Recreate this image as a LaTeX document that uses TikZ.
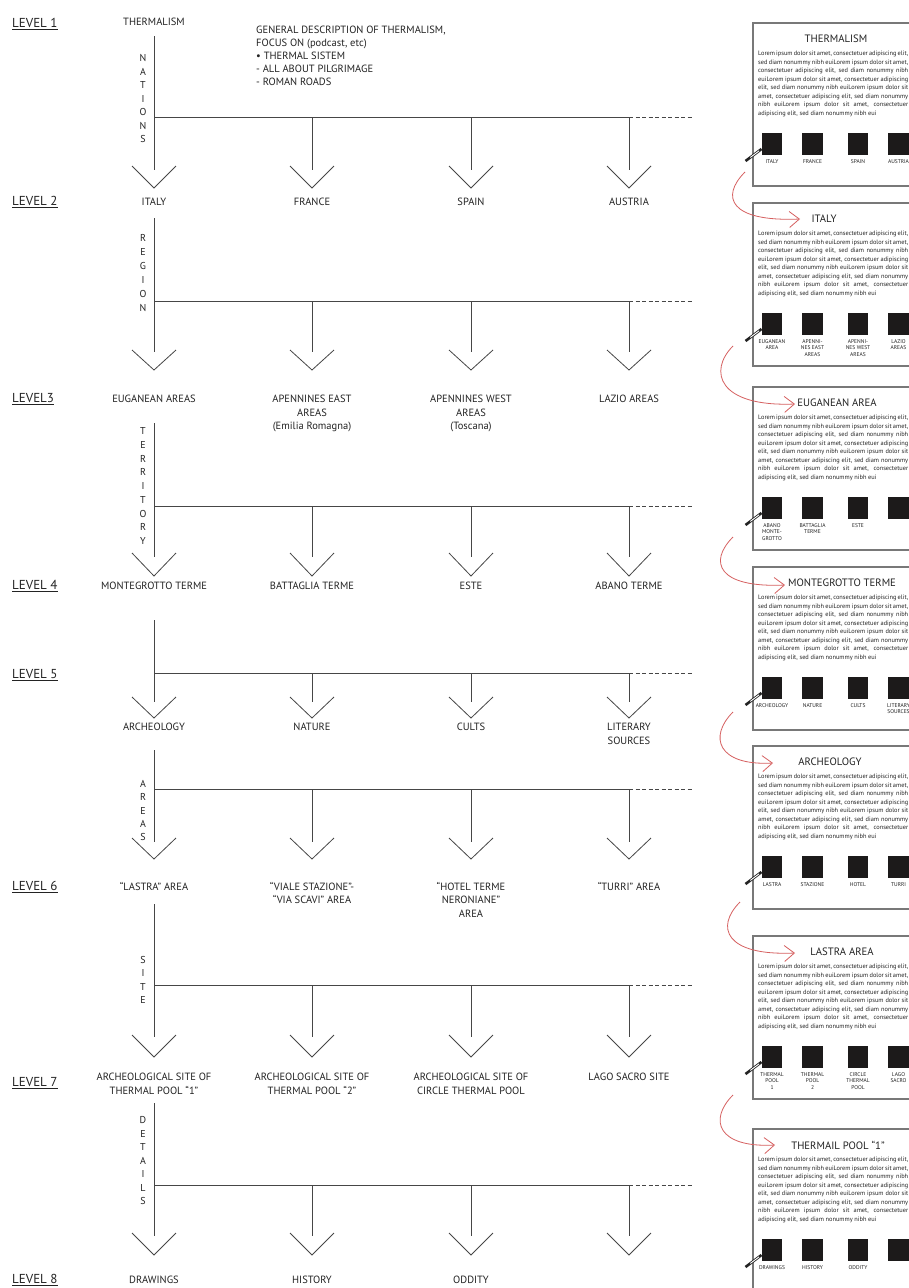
\documentclass[tikz,border=0pt]{standalone}
\usepackage{fontspec}
\setmainfont{PT Sans}
\usetikzlibrary{arrows.meta,calc}
\definecolor{ink}{RGB}{35,35,35}
\definecolor{lineg}{RGB}{70,70,70}
\definecolor{redc}{RGB}{214,96,96}
\definecolor{pborder}{RGB}{120,120,120}
\definecolor{sqfill}{RGB}{28,26,26}
\newcommand{\loremtxt}{\hyphenpenalty=10000\relax\exhyphenpenalty=10000\relax Lorem ipsum dolor sit amet, consectetuer adipiscing elit, sed diam nonummy nibh euiLorem ipsum dolor sit amet, consectetuer adipiscing elit, sed diam nonummy nibh euiLorem ipsum dolor sit amet, consectetuer adipiscing elit, sed diam nonummy nibh euiLorem ipsum dolor sit amet, consectetuer adipiscing elit, sed diam nonummy nibh euiLorem ipsum dolor sit amet, consectetuer adipiscing elit, sed diam nonummy nibh eui\par}
% #1 id, #2 top, #3 title x, #4 title, #5-#8 square labels
\newcommand{\mypanel}[8]{%
  \draw[pbox] (753,#2) rectangle (915,#2+163);
  \node[ptitle] (#1t) at (#3,#2+16) {#4};
  \node[lorem] (#1x) at (758,#2+28) {\loremtxt};
  \node[sqr] (#1a) at (772,#2+121) {};
  \node[sqr] (#1b) at (812.5,#2+121) {};
  \node[sqr] (#1c) at (858,#2+121) {};
  \node[sqr] (#1d) at (898.5,#2+121) {};
  \node[slbl] (#1la) at (772,#2+136) {#5};
  \node[slbl] (#1lb) at (812.5,#2+136) {#6};
  \node[slbl] (#1lc) at (858,#2+136) {#7};
  \node[slbl] (#1ld) at (898.5,#2+136) {#8};
  \coordinate (#1pa) at (745.5,#2+138);
  \coordinate (#1pb) at (761.5,#2+126);
  \draw[line width=2.6pt,ink] (#1pa)--(#1pb);
  \draw[line width=0.9pt,white] ($(#1pa)!0.3!(#1pb)$)--($(#1pa)!0.85!(#1pb)$);
}
\begin{document}
\begin{tikzpicture}[x=1pt,y=-1pt,
  ln/.style={draw=lineg,line width=0.9pt},
  chev/.style={draw=lineg,line width=0.8pt},
  dsh/.style={draw=lineg,line width=0.8pt,dash pattern=on 4pt off 2.5pt},
  lbl/.style={anchor=north,inner sep=0pt,align=center,text=ink,font=\fontsize{10.5}{13.5}\selectfont},
  lvl/.style={anchor=west,inner sep=0pt,text=ink,font=\fontsize{13}{15}\selectfont},
  vlet/.style={inner sep=0pt,text=ink,font=\fontsize{10}{12}\selectfont},
  desc/.style={anchor=north west,inner sep=0pt,align=left,text=ink,font=\fontsize{10.5}{13.2}\selectfont},
  pbox/.style={draw=pborder,line width=1.4pt},
  ptitle/.style={inner sep=0pt,text=ink,font=\fontsize{10.7}{13}\selectfont},
  lorem/.style={anchor=north west,inner sep=0pt,text width=150pt,align=justify,text=ink,
    font=\fontsize{6.35}{8.5}\selectfont},
  sqr/.style={fill=sqfill,minimum width=20.5pt,minimum height=22pt,inner sep=0pt},
  slbl/.style={anchor=north,inner sep=0pt,align=center,text=ink,font=\fontsize{5.5}{6.5}\selectfont},
  redarr/.style={draw=redc,line width=0.8pt,-{Straight Barb[length=10pt,width=16pt]}}
]
\useasboundingbox (0,0) rectangle (909,1288);
\clip (0,0) rectangle (909,1288);
\fill[white] (0,0) rectangle (909,1288);

% ---------- tree connectors ----------
\foreach \r/\ys/\yh/\yd/\yc/\yt in {1/36/117/170/166/188, 2/218/301/352/350/370, 3/423/506/557/553/576, 4/620/673/702/697/718, 5/750/789/842/838/859, 6/904/985/1037/1035/1057, 7/1103/1185/1236/1233/1255}{
  \coordinate (v\r) at (154,\ys);
  \coordinate (dash\r) at (692,\yh);
  \foreach \c/\x in {1/154,2/312,3/471,4/629}{
    \coordinate (j\r\c) at (\x,\yh);
    \coordinate (d\r\c) at (\x,\yd);
    \coordinate (t\r\c) at (\x,\yt);
    \draw[chev] (\x-22,\yc) -- (t\r\c) -- (\x+22,\yc);
  }
  \draw[ln] (v\r) -- (d\r1);
  \draw[ln] (j\r1) -- (j\r4);
  \draw[dsh] (j\r4) -- (dash\r);
  \foreach \c in {2,3,4} \draw[ln] (j\r\c) -- (d\r\c);
}

% ---------- level labels ----------
\node[lvl] (lev1) at (12,24) {\underline{LEVEL 1}};
\node[lvl] (lev2) at (12,202) {\underline{LEVEL 2}};
\node[lvl] (lev3) at (12,399) {\underline{LEVEL3}};
\node[lvl] (lev4) at (12,586) {\underline{LEVEL 4}};
\node[lvl] (lev5) at (12,675) {\underline{LEVEL 5}};
\node[lvl] (lev6) at (12,887) {\underline{LEVEL 6}};
\node[lvl] (lev7) at (12,1083) {\underline{LEVEL 7}};
\node[lvl] (lev8) at (12,1280) {\underline{LEVEL 8}};

% ---------- vertical words ----------
\foreach \l [count=\k] in {N,A,T,I,O,N,S} \node[vlet] (nat\k) at (143,58+13.5*\k-13.5) {\l};
\foreach \l [count=\k] in {R,E,G,I,O,N} \node[vlet] (reg\k) at (143,238+14*\k-14) {\l};
\foreach \l [count=\k] in {T,E,R,R,I,T,O,R,Y} \node[vlet] (ter\k) at (143,431+13.75*\k-13.75) {\l};
\foreach \l [count=\k] in {A,R,E,A,S} \node[vlet] (are\k) at (143,784+13.25*\k-13.25) {\l};
\foreach \l [count=\k] in {S,I,T,E} \node[vlet] (sit\k) at (143,960+13.3*\k-13.3) {\l};
\foreach \l [count=\k] in {D,E,T,A,I,L,S} \node[vlet] (det\k) at (143,1120+13.5*\k-13.5) {\l};

% ---------- tree labels ----------
\node[lbl] (n1) at (154,18) {THERMALISM};
\node[desc] (dsc) at (256,25.5) {GENERAL DESCRIPTION OF THERMALISM,\\FOCUS ON (podcast, etc)\\• THERMAL SISTEM\\- ALL ABOUT PILGRIMAGE\\- ROMAN ROADS};

\node[lbl] (n21) at (154,198) {ITALY};
\node[lbl] (n22) at (312,198) {FRANCE};
\node[lbl] (n23) at (471,198) {SPAIN};
\node[lbl] (n24) at (629,198) {AUSTRIA};

\node[lbl] (n31) at (154,395) {EUGANEAN AREAS};
\node[lbl] (n32) at (312,395) {APENNINES EAST\\AREAS\\(Emilia Romagna)};
\node[lbl] (n33) at (471,395) {APENNINES WEST\\AREAS\\(Toscana)};
\node[lbl] (n34) at (629,395) {LAZIO AREAS};

\node[lbl] (n41) at (154,582) {MONTEGROTTO TERME};
\node[lbl] (n42) at (312,582) {BATTAGLIA TERME};
\node[lbl] (n43) at (471,582) {ESTE};
\node[lbl] (n44) at (629,582) {ABANO TERME};

\node[lbl] (n51) at (154,723) {ARCHEOLOGY};
\node[lbl] (n52) at (312,723) {NATURE};
\node[lbl] (n53) at (471,723) {CULTS};
\node[lbl] (n54) at (629,723) {LITERARY\\SOURCES};

\node[lbl] (n61) at (154,882) {“LASTRA” AREA};
\node[lbl] (n62) at (312,882) {“VIALE STAZIONE”-\\“VIA SCAVI” AREA};
\node[lbl] (n63) at (471,882) {“HOTEL TERME\\NERONIANE”\\AREA};
\node[lbl] (n64) at (629,882) {“TURRI” AREA};

\node[lbl] (n71) at (154,1073) {ARCHEOLOGICAL SITE OF\\THERMAL POOL “1”};
\node[lbl] (n72) at (312,1073) {ARCHEOLOGICAL SITE OF\\THERMAL POOL “2”};
\node[lbl] (n73) at (471,1073) {ARCHEOLOGICAL SITE OF\\CIRCLE THERMAL POOL};
\node[lbl] (n74) at (629,1073) {LAGO SACRO SITE};

\node[lbl] (n81) at (154,1276) {DRAWINGS};
\node[lbl] (n82) at (312,1276) {HISTORY};
\node[lbl] (n83) at (471,1276) {ODDITY};

% ---------- right panels ----------
\mypanel{pA}{23}{836}{THERMALISM}{ITALY}{FRANCE}{SPAIN}{AUSTRIA}
\mypanel{pB}{203}{824}{ITALY}{EUGANEAN\\AREA}{APENNI-\\NES EAST\\AREAS}{APENNI-\\NES WEST\\AREAS}{LAZIO\\AREAS}
\mypanel{pC}{387}{837}{EUGANEAN AREA}{ABANO\\MONTE-\\GROTTO}{BATTAGLIA\\TERME}{ESTE}{}
\mypanel{pD}{567}{842}{MONTEGROTTO TERME}{ARCHEOLOGY}{NATURE}{CULTS}{LITERARY\\SOURCES}
\mypanel{pE}{746}{830}{ARCHEOLOGY}{LASTRA}{STAZIONE}{HOTEL}{TURRI}
\mypanel{pF}{936}{842}{LASTRA AREA}{THERMAL\\POOL\\1}{THERMAL\\POOL\\2}{CIRCLE\\THERMAL\\POOL}{LAGO\\SACRO}
\mypanel{pG}{1129}{838}{THERMAIL POOL “1”}{DRAWINGS}{HISTORY}{ODDITY}{}

% ---------- red arrows ----------
\coordinate (s1) at (745,172);  \coordinate (e1) at (800,219);
\coordinate (s2) at (733,346);  \coordinate (e2) at (795,404);
\coordinate (s3) at (733,537);  \coordinate (e3) at (785,585);
\coordinate (s4) at (733,712);  \coordinate (e4) at (773,763);
\coordinate (s5) at (740,902);  \coordinate (e5) at (795,953);
\coordinate (s6) at (733,1095); \coordinate (e6) at (775,1145);
\foreach \i in {1,...,6}
  \draw[redarr] (s\i) .. controls ($(s\i)+(-25,25)$) and ($(s\i|-e\i)+(-15,3)$) .. (e\i);
\end{tikzpicture}
\end{document}
